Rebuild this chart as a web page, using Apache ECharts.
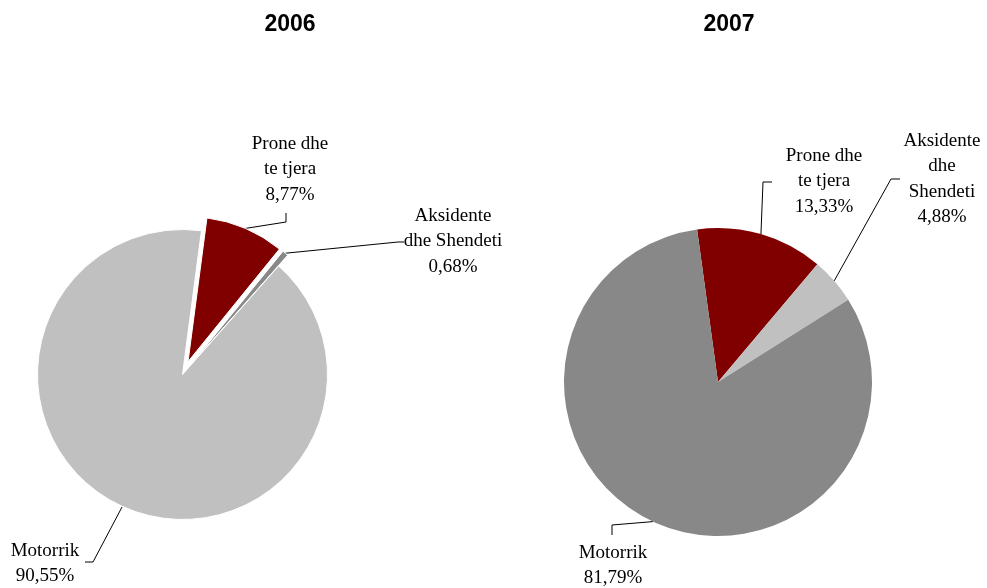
<!DOCTYPE html>
<html>
<head>
<meta charset="utf-8">
<script src="https://cdn.jsdelivr.net/npm/echarts@6/dist/echarts.min.js"></script>
<style>
  html, body { margin: 0; padding: 0; background: #fff; }
  #chart { width: 987px; height: 588px; }
</style>
</head>
<body>
<div id="chart"></div>
<script>
const years = ['2006', '2007'];
const categories = ['Prone dhe te tjera', 'Aksidente dhe Shendeti', 'Motorrik'];
const labels2006 = ['Prone dhe\nte tjera', 'Aksidente\ndhe Shendeti', 'Motorrik'];
const labels2007 = ['Prone dhe\nte tjera', 'Aksidente\ndhe\nShendeti', 'Motorrik'];
const values2006 = [8.77, 0.68, 90.55];
const values2007 = [13.33, 4.88, 81.79];

const colors2006 = ['#800000', '#888888', '#c0c0c0'];
const colors2007 = ['#800000', '#c0c0c0', '#888888'];
const explode2006 = [true, true, false];
const explode2007 = [false, false, false];
const OFFSET = 14;

// label box (centre x, top y), leader bend and end
const place2006 = [
  { x: 290, y: 131, bend: [286, 222], end: [286, 213] },
  { x: 453, y: 203, bend: [398, 242], end: [404, 242] },
  { x: 45, y: 538, bend: [93, 562], end: [85, 562] }
];
const place2007 = [
  { x: 824, y: 143, bend: [763, 182], end: [772, 182] },
  { x: 942, y: 128, bend: [891, 179], end: [900, 179] },
  { x: 613, y: 540, bend: [612, 525], end: [612, 535] }
];

const fmt = v => v.toFixed(2).replace('.', ',') + '%';

// overlay = true: invisible copy of the pie, only carries the labels of the pulled-out slices
function makePie(values, names, colors, place, explode, center, radius, startAngle, overlay) {
  return {
    type: 'pie',
    center: center,
    radius: overlay ? radius + OFFSET : radius,
    startAngle: startAngle,
    clockwise: true,
    silent: true,
    avoidLabelOverlap: false,
    selectedMode: overlay ? false : 'multiple',
    selectedOffset: OFFSET,
    emphasis: { disabled: true },
    itemStyle: { borderColor: '#fff', borderWidth: overlay ? 0 : (explode.some(e => e) ? 1 : 0) },
    label: {
      position: 'outside',
      fontFamily: 'Liberation Serif',
      fontSize: 19,
      lineHeight: 25.5,
      color: '#000',
      align: 'center',
      formatter: p => names[p.dataIndex] + '\n' + fmt(p.value)
    },
    labelLine: { length: 10, length2: 10, lineStyle: { color: '#000', width: 1 } },
    labelLayout: params => {
      const pl = place[params.dataIndex];
      const p0 = params.labelLinePoints ? params.labelLinePoints[0] : pl.bend;
      return {
        x: pl.x,
        y: pl.y,
        align: 'center',
        verticalAlign: 'top',
        labelLinePoints: [p0, pl.bend, pl.end]
      };
    },
    data: categories.map((c, i) => {
      const showLabel = overlay ? explode[i] : !explode[i];
      return {
        name: c,
        value: values[i],
        selected: !overlay && explode[i],
        label: { show: showLabel },
        labelLine: { show: showLabel },
        itemStyle: { color: overlay ? 'rgba(0,0,0,0)' : colors[i] }
      };
    })
  };
}

const titleStyle = { fontFamily: 'Liberation Sans', fontWeight: 'bold', fontSize: 23, color: '#000' };

const chart = echarts.init(document.getElementById('chart'));
chart.setOption({
  animation: false,
  title: [
    { text: years[0], left: 285, top: 8, textAlign: 'center', textStyle: titleStyle },
    { text: years[1], left: 724, top: 8, textAlign: 'center', textStyle: titleStyle }
  ],
  series: [
    makePie(values2006, labels2006, colors2006, place2006, explode2006, [182.5, 374.5], 145, 82.5, false),
    makePie(values2006, labels2006, colors2006, place2006, explode2006, [182.5, 374.5], 145, 82.5, true),
    makePie(values2007, labels2007, colors2007, place2007, explode2007, [718, 382], 154, 97.8, false)
  ]
});
</script>
</body>
</html>
